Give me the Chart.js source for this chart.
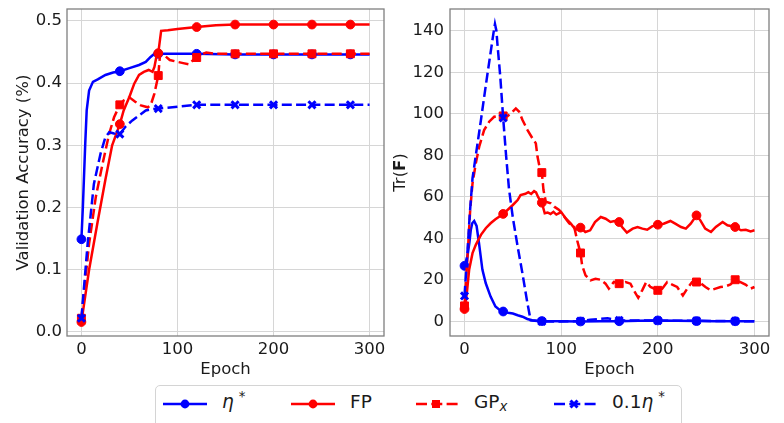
<!DOCTYPE html>
<html>
<head>
<meta charset="utf-8">
<script src="https://cdn.jsdelivr.net/npm/chart.js@4.4.1/dist/chart.umd.min.js"></script>
<style>
  html, body { margin: 0; padding: 0; background: #fff; overflow: hidden; }
  body { width: 784px; height: 423px; position: relative; font-family: 'DejaVu Sans', sans-serif; color: #1a1a1a; }
  #accChart { position: absolute; left: 0; top: 0; }
  #traceChart { position: absolute; left: 392px; top: 0; }
  .legend { position: absolute; left: 155px; top: 385px; width: 527px; height: 60px; border: 1px solid #d4d4d4; border-radius: 5px; box-sizing: border-box; }
  .legend svg, .legend span { position: absolute; }
  .legend span { font-size: 18.5px; line-height: 22px; top: 5px; white-space: nowrap; }
  .legend sup { font-size: 0.72em; vertical-align: baseline; position: relative; top: -0.5em; margin-left: 5px; }
  .legend sub { font-size: 0.72em; vertical-align: baseline; position: relative; top: 0.25em; font-style: italic; }
</style>
</head>
<body>
<canvas id="accChart" width="392" height="380"></canvas>
<canvas id="traceChart" width="392" height="380"></canvas>

<div class="legend">
  <svg width="46" height="14" style="left:6px;top:11px">
    <line x1="1" y1="7" x2="45" y2="7" stroke="#0000ff" stroke-width="2.5"/>
    <circle cx="23" cy="7" r="4.4" fill="#0000ff"/>
  </svg>
  <span style="left:66px"><i>η</i><sup>*</sup></span>

  <svg width="46" height="14" style="left:134px;top:11px">
    <line x1="1" y1="7" x2="45" y2="7" stroke="#ff0000" stroke-width="2.5"/>
    <circle cx="23" cy="7" r="4.4" fill="#ff0000"/>
  </svg>
  <span style="left:194px">FP</span>

  <svg width="46" height="14" style="left:259px;top:11px">
    <line x1="1" y1="7" x2="45" y2="7" stroke="#ff0000" stroke-width="2.5" stroke-dasharray="11 4.3"/>
    <rect x="17" y="3" width="8" height="8" fill="#ff0000"/>
  </svg>
  <span style="left:318px">GP<sub>x</sub></span>

  <svg width="46" height="14" style="left:397px;top:11px">
    <line x1="1" y1="7" x2="45" y2="7" stroke="#0000ff" stroke-width="2.5" stroke-dasharray="11 4.3"/>
    <path d="M17.5 3.5 L24.5 10.5 M24.5 3.5 L17.5 10.5" stroke="#0000ff" stroke-width="3"/>
  </svg>
  <span style="left:456px">0.1<i>η</i><sup>*</sup></span>
</div>

<script>
// ===== DATA =====
// [epoch, value] pairs; markers are placed every 40 epochs
const X_TICKS = [0, 100, 200, 300];
const ACC_TICKS = [0, 0.1, 0.2, 0.3, 0.4, 0.5];
const TRACE_TICKS = [0, 20, 40, 60, 80, 100, 120, 140];
const SERIES_NAMES = ['η*', 'FP', 'GPx', '0.1η*'];

// validation accuracy
const ETA_ACC = [[0, 0.149], [1.5, 0.20], [4, 0.303], [5.5, 0.356], [8, 0.388], [12, 0.402], [17, 0.406],
  [25, 0.413], [33, 0.417], [40, 0.419], [50, 0.424], [60, 0.429], [67, 0.434], [72, 0.442], [76, 0.447],
  [80, 0.447], [120, 0.447], [160, 0.446], [200, 0.446], [240, 0.446], [280, 0.446], [300, 0.446]];
const FP_ACC = [[0, 0.016], [8, 0.10], [17, 0.178], [25, 0.245], [32, 0.300], [40, 0.334], [44, 0.356],
  [50, 0.378], [55, 0.399], [60, 0.413], [65, 0.418], [70, 0.421], [74, 0.418], [76, 0.426], [78, 0.442],
  [80, 0.448], [83, 0.484], [90, 0.485], [100, 0.487], [120, 0.490], [140, 0.493], [160, 0.494],
  [200, 0.494], [240, 0.494], [280, 0.494], [300, 0.494]];
const GPX_ACC = [[0, 0.022], [8, 0.142], [15, 0.217], [22, 0.27], [29, 0.319], [34, 0.345], [40, 0.365],
  [44, 0.372], [50, 0.377], [56, 0.370], [62, 0.364], [69, 0.361], [72, 0.364], [76, 0.383], [80, 0.412],
  [82, 0.448], [86, 0.445], [92, 0.437], [100, 0.434], [106, 0.432], [112, 0.430], [117, 0.438],
  [120, 0.441], [125, 0.446], [130, 0.449], [140, 0.447], [160, 0.447], [200, 0.447], [240, 0.447],
  [280, 0.447], [300, 0.447]];
const ETA_TENTH_ACC = [[0, 0.022], [6.5, 0.142], [13, 0.238], [20, 0.287], [25, 0.313], [29, 0.321],
  [34, 0.319], [40, 0.318], [46, 0.330], [53, 0.340], [60, 0.348], [67, 0.356], [74, 0.358], [80, 0.359],
  [100, 0.362], [120, 0.365], [160, 0.365], [200, 0.365], [240, 0.365], [280, 0.365], [300, 0.365]];

// trace of the Fisher matrix
const ETA_TRACE = [[0, 26.8], [3, 31.3], [5, 37.7], [6.5, 44], [8, 47.3], [10, 48.4], [12.5, 46], [15, 37.7],
  [18.5, 25], [22, 18.4], [27, 12], [32, 7.2], [37, 5.3], [40, 4.8], [45, 4.2], [50, 3.8], [55, 3.0],
  [60, 2.3], [65, 1.2], [70, 0.6], [75, 0.3], [80, 0.2], [100, 0.1], [120, 0.0], [140, 0.1], [160, 0.1],
  [180, 0.3], [200, 0.5], [220, 0.4], [240, 0.2], [260, 0.1], [280, 0.1], [300, 0.1]];
const FP_TRACE = [[0, 6.0], [2.4, 13.6], [4.8, 24.9], [8.3, 32.9], [11.7, 36.9], [17, 41.7], [22, 44.9],
  [27, 47.3], [32, 49.2], [40, 51.8], [44.5, 53.7], [50, 56.1], [55, 58.5], [58, 60.9], [63, 61.5],
  [66, 62.3], [69, 61.4], [72, 62.8], [74, 62.2], [76, 60.1], [78, 58.5], [80, 57.2], [83, 52.1],
  [86, 52.5], [89, 51.8], [92, 52.8], [95, 51.5], [100, 52.7], [105, 49.5], [110, 47.1], [115, 44.2],
  [120, 45.2], [125, 43.1], [130, 43.9], [135, 47.9], [141, 50.3], [146, 49.5], [151, 47.9], [155, 48.4],
  [160, 47.9], [163, 45.5], [168, 42.8], [174, 44.7], [179, 45.5], [184, 44.7], [189, 44.2], [194, 45.8],
  [200, 46.6], [206, 47.1], [213, 48.4], [218, 47.1], [224, 45.5], [229, 44.7], [234, 47.1], [240, 51.1],
  [244, 48.7], [249, 44.7], [255, 43.1], [260, 45.5], [267, 47.9], [272, 46.3], [280, 45.5], [286, 43.9],
  [291, 44.2], [296, 43.4], [300, 43.9]];
const GPX_TRACE = [[0, 7.5], [3.1, 31.3], [5.9, 53.7], [8.3, 66.5], [11.7, 76.2], [15.2, 84.2], [20.3, 92.2],
  [25.5, 96.2], [30.7, 98.6], [35.9, 99.1], [40, 99.0], [44.5, 98.9], [49.7, 101], [53.1, 102.6],
  [56.6, 101], [60, 97], [65.2, 92.2], [70.3, 88.2], [73.8, 85.8], [75.5, 79.4], [78.3, 73], [80, 71.7],
  [81.7, 63.3], [84.1, 57.7], [89.3, 56.9], [92.8, 55.3], [97.9, 53.7], [103.1, 50.5], [108.3, 47.3],
  [113.4, 45.7], [116.6, 39], [120, 33], [121.7, 27], [125.2, 22.2], [130.4, 19.8], [135.5, 20.6],
  [140.7, 20.1], [145.9, 18.2], [149.3, 15.8], [154.5, 19], [160, 18.2], [166.6, 19], [171.7, 18.2],
  [175.2, 15], [179.7, 11.4], [183.8, 15], [188, 19], [192.4, 16.6], [200, 15], [204.5, 15.8],
  [209.7, 19], [214.8, 17.8], [220, 16.6], [225.9, 12.5], [230.4, 15.8], [235.5, 19], [240, 19],
  [244.2, 18.5], [249.3, 16.6], [254.5, 15], [259.7, 15.8], [264.8, 16.6], [270, 16.9], [275.2, 17.8],
  [280, 20.1], [285.5, 19], [290.7, 17.8], [295.9, 15.8], [300, 16.6]];
const ETA_TENTH_TRACE = [[0, 12.3], [3, 33], [5.5, 52], [8.3, 69], [12, 81], [17, 97], [20, 107], [24, 120],
  [27, 129.5], [30, 139], [31.5, 143.3], [33, 140], [34, 134], [37, 118], [40, 98], [43, 80], [46, 64],
  [50, 50], [55, 36], [60, 23], [65, 9], [68.5, 0.5], [80, 0], [100, 0], [120, 0.2], [130, 0.8],
  [140, 1.2], [148, 1.5], [160, 0.5], [200, 0.4], [240, 0.3], [280, 0.2], [300, 0.1]];

// ===== STYLE =====
const BLUE = '#0000ff';
const RED = '#ff0000';
const TEXT = '#1a1a1a';
const FONT = { family: 'DejaVu Sans', size: 16.5 };
const DASH = [10, 4.3];

Chart.defaults.font.family = 'DejaVu Sans';
Chart.defaults.color = TEXT;

function series(label, points, color, marker, dashed) {
  const sizes = { circle: 4.4, rect: 5.6, crossRot: 5 };
  return {
    label,
    data: points.map(([x, y]) => ({ x, y })),
    borderColor: color,
    backgroundColor: color,
    borderWidth: 2.5,
    borderDash: dashed ? DASH : [],
    tension: 0,
    pointStyle: marker,
    pointBorderWidth: marker === 'crossRot' ? 3 : 1,
    pointRadius: c => (c.raw && c.raw.x % 40 === 0 ? sizes[marker] : 0),
    pointHoverRadius: 0
  };
}

// keep the plot box where the layout padding puts it
function noScalePadding(s) {
  s.paddingTop = 0;
  s.paddingBottom = 0;
  s.paddingLeft = 0;
  s.paddingRight = 0;
}

// gray box around the plot area
const frame = {
  id: 'frame',
  afterDraw(chart) {
    const { ctx, chartArea: a } = chart;
    ctx.save();
    ctx.strokeStyle = '#7f7f7f';
    ctx.lineWidth = 1.3;
    ctx.strokeRect(a.left, a.top, a.right - a.left, a.bottom - a.top);
    ctx.restore();
  }
};

// "Tr(F)" with a bold F, rotated along the y axis
const traceTitle = {
  id: 'traceTitle',
  afterDraw(chart) {
    const { ctx, chartArea: a } = chart;
    const parts = [['Tr(', 'normal'], ['F', 'bold'], [')', 'normal']];
    ctx.save();
    ctx.translate(9, (a.top + a.bottom) / 2);
    ctx.rotate(-Math.PI / 2);
    ctx.textBaseline = 'middle';
    ctx.fillStyle = TEXT;
    const widths = parts.map(([t, w]) => {
      ctx.font = `${w} ${FONT.size}px "DejaVu Sans"`;
      return ctx.measureText(t).width;
    });
    let x = -widths.reduce((s, w) => s + w, 0) / 2;
    parts.forEach(([t, w], i) => {
      ctx.font = `${w} ${FONT.size}px "DejaVu Sans"`;
      ctx.fillText(t, x, 0);
      x += widths[i];
    });
    ctx.restore();
  }
};

function makeChart(id, datasets, opts) {
  return new Chart(document.getElementById(id), {
    type: 'line',
    data: { datasets },
    options: {
      responsive: false,
      animation: false,
      events: [],
      layout: { padding: { left: 0, right: opts.padRight, top: 9, bottom: 0 } },
      plugins: { legend: { display: false }, tooltip: { enabled: false } },
      scales: {
        x: {
          type: 'linear',
          min: -15,
          max: 315,
          afterBuildTicks: s => { s.ticks = X_TICKS.map(v => ({ value: v })); },
          afterFit: s => { s.height = 44; noScalePadding(s); },
          grid: { color: '#d6d6d6', lineWidth: 1, drawTicks: false },
          border: { display: false },
          ticks: { font: FONT, color: TEXT, padding: 4, maxRotation: 0 },
          title: { display: true, text: 'Epoch', font: FONT, color: TEXT, padding: { top: 0, bottom: 0 } }
        },
        y: {
          type: 'linear',
          min: opts.yMin,
          max: opts.yMax,
          afterBuildTicks: s => { s.ticks = opts.yTicks.map(v => ({ value: v })); },
          afterFit: s => { s.width = opts.yWidth; noScalePadding(s); },
          grid: { color: '#d6d6d6', lineWidth: 1, drawTicks: false },
          border: { display: false },
          ticks: { font: FONT, color: TEXT, padding: opts.tickPad, callback: opts.fmt },
          title: opts.yTitle
            ? { display: true, text: opts.yTitle, font: FONT, color: TEXT, padding: { top: 14, bottom: 0 } }
            : { display: false }
        }
      }
    },
    plugins: opts.plugins
  });
}

// ===== CHARTS =====
makeChart('accChart', [
  Object.assign(series(SERIES_NAMES[0], ETA_ACC, BLUE, 'circle', false), { order: 3 }),
  Object.assign(series(SERIES_NAMES[1], FP_ACC, RED, 'circle', false), { order: 2 }),
  Object.assign(series(SERIES_NAMES[2], GPX_ACC, RED, 'rect', true), { order: 1 }),
  Object.assign(series(SERIES_NAMES[3], ETA_TENTH_ACC, BLUE, 'crossRot', true), { order: 0 })
], {
  padRight: 5, yMin: -0.0065, yMax: 0.519, yTicks: ACC_TICKS, yWidth: 67, tickPad: 5,
  fmt: v => v.toFixed(1), yTitle: 'Validation Accuracy (%)', plugins: [frame]
});

makeChart('traceChart', [
  Object.assign(series(SERIES_NAMES[0], ETA_TRACE, BLUE, 'circle', false), { order: 3 }),
  Object.assign(series(SERIES_NAMES[1], FP_TRACE, RED, 'circle', false), { order: 2 }),
  Object.assign(series(SERIES_NAMES[2], GPX_TRACE, RED, 'rect', true), { order: 1 }),
  Object.assign(series(SERIES_NAMES[3], ETA_TENTH_TRACE, BLUE, 'crossRot', true), { order: 0 })
], {
  padRight: 15, yMin: -7, yMax: 150.5, yTicks: TRACE_TICKS, yWidth: 58, tickPad: 6,
  fmt: v => String(v), yTitle: null, plugins: [frame, traceTitle]
});
</script>
</body>
</html>
